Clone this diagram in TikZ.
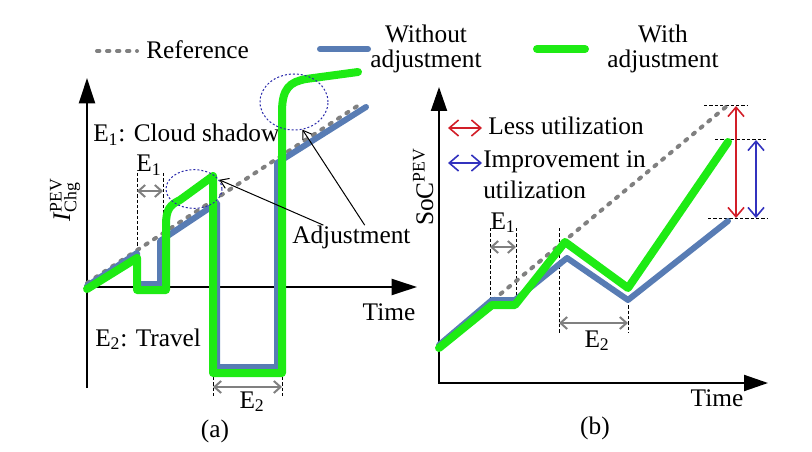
\documentclass[tikz,border=0pt]{standalone}
\usepackage{fontspec}
\setmainfont{Liberation Serif}
\usetikzlibrary{shapes.geometric, arrows.meta}
\definecolor{refgray}{RGB}{128,128,128}
\definecolor{noadjblue}{RGB}{88,124,180}
\definecolor{adjgreen}{RGB}{30,235,20}
\definecolor{lessred}{RGB}{210,30,40}
\definecolor{impblue}{RGB}{50,50,190}
\definecolor{ringblue}{RGB}{40,40,170}
\tikzstyle{txt} = [inner sep=0pt, font=\fontsize{19}{18.75}\selectfont]
\tikzstyle{refline} = [refgray, line width=3pt, line cap=round, dash pattern=on 1.8pt off 5.7pt]
\tikzstyle{noadj} = [noadjblue, line width=4.5pt, line join=round, line cap=round]
\tikzstyle{withadj} = [adjgreen, line width=6pt, line join=round, line cap=round]
\tikzstyle{axisline} = [line width=1.5pt, -{Triangle[length=19pt,width=12pt]}]
\tikzstyle{axisboth} = [line width=1.5pt, {Triangle[length=18pt,width=12pt]}-{Triangle[length=18pt,width=12pt]}]
\tikzstyle{marker} = [line width=0.75pt, dash pattern=on 2.5pt off 1.5pt]
\tikzstyle{span} = [refgray, line width=1.5pt, <->, >={Straight Barb[length=5pt,width=9pt]}]
\tikzstyle{gap} = [line width=1.2pt, <->, >={Straight Barb[length=7pt,width=12pt]}]
\tikzstyle{arrow} = [line width=0.75pt, ->, >={Straight Barb[length=6pt,width=8pt]}]
\tikzstyle{ring} = [ellipse, draw=ringblue, line width=0.75pt, dash pattern=on 1.5pt off 1.5pt, inner sep=0pt]

\begin{document}
\begin{tikzpicture}[x=0.75pt, y=-0.75pt]
            \useasboundingbox (0,0) rectangle (812,452);

            % legend
            \node (lref)   [txt, anchor=base west] at (146,59) {Reference};
            \node (lnoadj) [txt, align=center, anchor=north] at (426,24.7) {Without\\adjustment};
            \node (ladj)   [txt, align=center, anchor=north] at (663,24.7) {With\\adjustment};
            \draw [refline] (97,51) -- (137,51);
            \draw [noadj]   (320,49) -- (368,49);
            \draw [withadj] (537,49) -- (585,49);

            % (a) charging current
            \draw [axisline] (87,388) -- (87,78);
            \draw [axisline] (87,287) -- (417,287);
            \node (ylaba)  [txt, rotate=90, anchor=base] at (70,200) {\textit{I}$^{\mathrm{PEV}}_{\mathrm{Chg}}$};
            \node (timea)  [txt, anchor=base] at (389,320) {Time};
            \node (capa)   [txt, anchor=base] at (215,437) {(a)};
            \node (cloud)  [txt, anchor=base west] at (93,142) {E\textsubscript{1}: Cloud shadow};
            \node (travel) [txt, anchor=base west] at (95,346) {E\textsubscript{2}: Travel};

            \node (e1a) [txt, anchor=base] at (149,172) {E\textsubscript{1}};
            \draw [marker] (137,173) -- (137,252);
            \draw [marker] (163,173) -- (163,240);
            \draw [span]   (137,191) -- (163,191);
            \node (e2a) [txt, anchor=base] at (252,408) {E\textsubscript{2}};
            \draw [marker] (213,377) -- (213,398);
            \draw [marker] (282,377) -- (282,398);
            \draw [span]   (213,387) -- (282,387);

            \draw [refline] (87,283) -- (362,103);
            \draw [noadj] (87,286) -- (137,253) -- (137,284) -- (160,284) -- (160,241) -- (217,203)
                -- (217,367) -- (277,367) -- (277,163) -- (366,107);
            \draw [withadj] (87,289) -- (137,258) -- (137,290) -- (166,290) -- (166,225)
                .. controls (166,209) and (170,205) .. (180,200) -- (213,176) -- (213,373) -- (282,373)
                -- (282,112) .. controls (282,88) and (290,82) .. (306,79) -- (358,72);

            \node (ringa) [ring, minimum width=42pt, minimum height=29pt] at (194,189) {};
            \node (ringb) [ring, minimum width=51pt, minimum height=42pt] at (294,102) {};
            \node (adj) [txt, anchor=base west] at (292,243) {Adjustment};
            \draw [arrow] ([xshift=-21pt]adj.north) -- (ringa.20);
            \draw [arrow] ([xshift=10pt]adj.north)  -- (ringb.-73);

            % (b) state of charge
            \draw [axisboth] (439,87) -- (439,383) -- (768,383);
            \node (ylabb) [txt, rotate=90, anchor=base] at (433,187) {SoC$^{\mathrm{PEV}}$};
            \node (timeb) [txt, anchor=base] at (717,406) {Time};
            \node (capb)  [txt, anchor=base] at (595,434) {(b)};

            \draw [gap, lessred] (448,128) -- (482,128);
            \node (less) [txt, anchor=base west] at (488,135) {Less utilization};
            \draw [gap, impblue] (448,163) -- (482,163);
            \node (impr) [txt, align=left, anchor=north west] at (483,150.7) {Improvement in\\[4.5pt]utilization};

            \node (e1b) [txt, anchor=base] at (503,229) {E\textsubscript{1}};
            \draw [marker] (490,228) -- (490,300);
            \draw [marker] (516,228) -- (516,300);
            \draw [span]   (490,247) -- (516,247);
            \node (e2b) [txt, anchor=base] at (597,347) {E\textsubscript{2}};
            \draw [marker] (559,228) -- (559,333);
            \draw [marker] (628,300) -- (628,333);
            \draw [span]   (559,323) -- (628,323);

            \draw [marker] (704,106) -- (748,106);
            \draw [marker] (715,140) -- (768,140);
            \draw [marker] (708,218) -- (768,218);
            \draw [gap, lessred] (736,106) -- (736,218);
            \draw [gap, impblue] (756,140) -- (756,218);

            \draw [refline] (439,345) -- (727,106);
            \draw [noadj] (439,345) -- (492,300) -- (515,300) -- (567,258) -- (628,300) -- (728,221);
            \draw [withadj] (439,348) -- (492,305) -- (515,305) -- (565,242) -- (628,288) -- (728,142);
        \end{tikzpicture}
\end{document}
